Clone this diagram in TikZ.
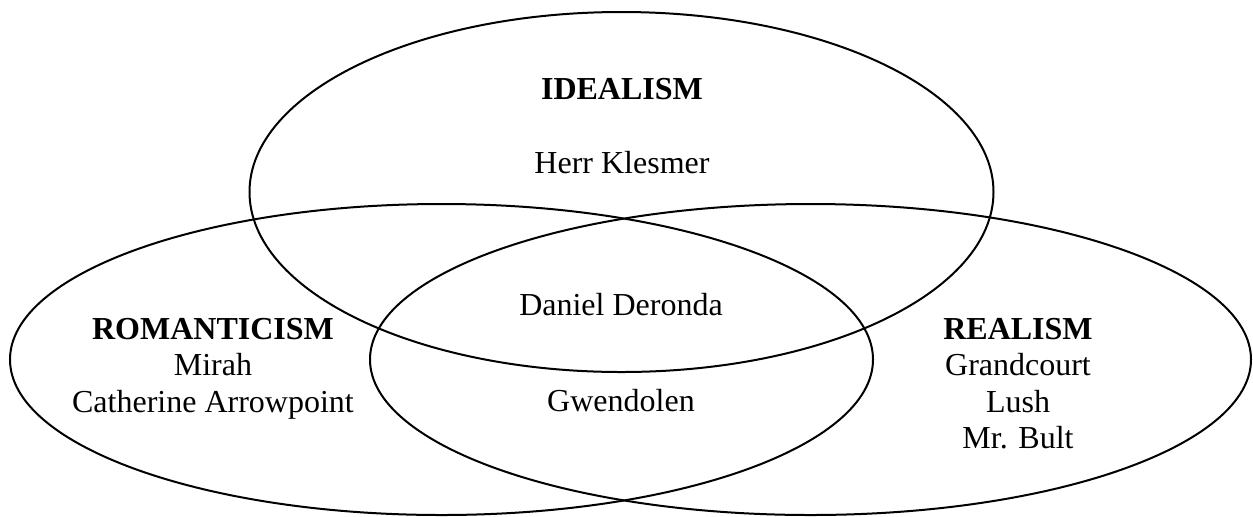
\documentclass[tikz,border=0pt]{standalone}
\usepackage{fontspec}
\setmainfont{Liberation Serif}
\usepackage{tikz}
\tikzset{
  venn/.style={draw=black,line width=1pt},
  lbl/.style={anchor=base,inner sep=0pt,font=\fontsize{16pt}{18pt}\selectfont},
  head/.style={lbl,font=\fontsize{16pt}{18pt}\selectfont\bfseries},
}

\begin{document}
\begin{tikzpicture}[x=0.5pt,y=-0.5pt]
  \useasboundingbox (0,0) rectangle (1253,516);

  \draw[venn] (621.5,192) ellipse [x radius=186pt,y radius=90pt];
  \draw[venn] (441.5,359.5) ellipse [x radius=215.75pt,y radius=77.75pt];
  \draw[venn] (810.5,359.5) ellipse [x radius=220.25pt,y radius=77.75pt];

  \node[head] (ideal) at (622,99) {IDEALISM};
  \node[lbl] (klesmer) at (622,173) {Herr Klesmer};
  \node[lbl] (deronda) at (621,315) {Daniel Deronda};
  \node[lbl] (gwen) at (621,411) {Gwendolen};

  \node[head] (roman) at (213,339) {ROMANTICISM};
  \node[lbl] (mirah) at (213,375) {Mirah};
  \node[lbl] (cath) at (213,412) {Catherine Arrowpoint};

  \node[head] (real) at (1018,339) {REALISM};
  \node[lbl] (grand) at (1018,375) {Grandcourt};
  \node[lbl] (lush) at (1018,412) {Lush};
  \node[lbl] (bult) at (1018,448) {Mr. Bult};
\end{tikzpicture}
\end{document}
